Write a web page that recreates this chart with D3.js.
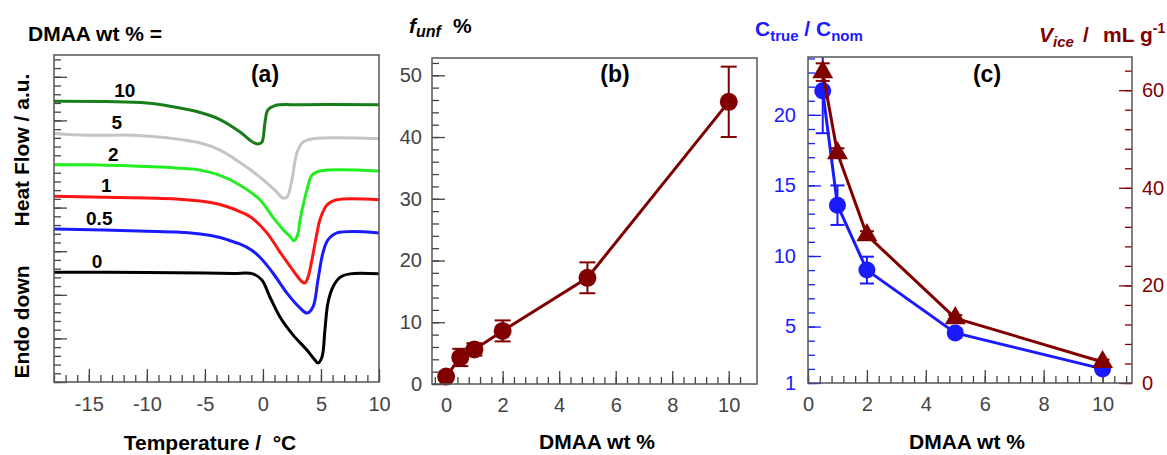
<!DOCTYPE html>
<html>
<head>
<meta charset="utf-8">
<script src="https://cdn.jsdelivr.net/npm/d3@7"></script>
<style>
  body { margin: 0; background: #fff; }
  text { font-family: "Liberation Sans", Arial, sans-serif; white-space: pre; }
</style>
</head>
<body>
<svg id="fig" width="1167" height="455"></svg>
<script>
// (a) DSC traces: temperature (°C) vs heat flow (a.u., offset per curve)
const curveNames = ["10", "5", "2", "1", "0.5", "0"];
const t10 = [-18, -10, -7.5, -5.4, -3.7, -2.0, -0.86, -0.43, -0.09, 0.17, 0.43, 1.03, 3.2, 10];
const hf10 = [32.2, 32.0, 31.5, 30.9, 30.1, 28.7, 27.5, 27.3, 27.5, 29.7, 31.2, 31.7, 31.8, 31.8];
const t5 = [-18, -15, -11.2, -8.3, -5.4, -3.7, -2.0, -0.26, 1.03, 1.72, 2.07, 2.5, 2.93, 3.45, 4.31, 10];
const hf5 = [28.5, 28.3, 28.3, 28.0, 27.4, 26.6, 25.2, 23.5, 22.0, 21.1, 21.2, 23.2, 26.3, 27.5, 27.9, 27.9];
const t2 = [-18, -15, -10, -7.5, -5.4, -3.7, -2.0, -0.26, 0.86, 1.72, 2.33, 2.67, 3.0, 3.2, 3.79, 4.22, 4.91, 10];
const hf2 = [24.9, 24.9, 24.7, 24.55, 24.3, 23.7, 22.6, 20.9, 18.9, 17.5, 16.7, 16.2, 16.9, 18.6, 22.0, 23.7, 24.2, 24.2];
const t1 = [-18, -10, -7.5, -5.4, -4.5, -3.7, -3.0, -2.0, -1.0, 0.34, 1.47, 2.59, 3.36, 3.62, 3.88, 4.22, 4.66, 4.91, 5.52, 6.38, 10];
const hf1 = [21.3, 21.1, 21.0, 20.76, 20.58, 20.35, 20.07, 19.55, 18.86, 17.1, 14.9, 12.8, 11.5, 11.35, 12.0, 14.0, 17.1, 18.6, 20.3, 20.9, 20.9];
const t05 = [-18, -10, -7.5, -5.4, -4.5, -3.7, -3.0, -2.0, -1.0, -0.26, 0.86, 2.07, 3.19, 3.79, 4.31, 4.74, 5.17, 5.6, 6.38, 10];
const hf05 = [17.55, 17.3, 17.2, 16.97, 16.8, 16.57, 16.28, 15.83, 15.14, 14.3, 12.5, 10.2, 8.5, 7.9, 8.6, 11.7, 14.8, 16.3, 17.1, 17.1];
const t0 = [-18, -10, -5, -2.5, -0.86, -0.09, 0.6, 1.47, 2.59, 3.79, 4.48, 4.74, 5.09, 5.34, 5.6, 6.03, 6.64, 7.5, 10];
const hf0 = [12.6, 12.55, 12.5, 12.45, 12.4, 11.7, 9.75, 7.45, 5.4, 3.67, 2.52, 2.18, 2.87, 5.96, 9.06, 10.9, 12.0, 12.4, 12.4];

// (b) unfrozen water fraction
const dmaaB = [0, 0.5, 1, 2, 5, 10];
const fUnf = [1.2, 4.3, 5.6, 8.6, 17.2, 45.7];
const fUnfErr = [0.3, 1.4, 1.0, 1.7, 2.5, 5.7];

// (c) concentration ratio and ice volume
const dmaaC = [0.5, 1, 2, 5, 10];
const cRatio = [21.7, 13.6, 9.0, 4.55, 2.0];
const cRatioErr = [3.0, 1.4, 0.95, 0.3, 0.15];
const vIce = [63.7, 47.1, 30.3, 13.3, 4.3];
const vIceErr = [1.8, 1.0, 0.8, 0.6, 0.5];

const svg = d3.select("#fig");
const FONT = "Liberation Sans, Arial, sans-serif";
const DARKRED = "#800000", BLUE = "#1a1aff", FRAME = "#555";

function ticks(scale, orient, pos, values, size, color, fmt, pad) {
  const maker = orient === "bottom" ? d3.axisBottom : orient === "left" ? d3.axisLeft : d3.axisRight;
  const ax = maker(scale).tickValues(values).tickSize(-size).tickPadding(pad || 0)
    .tickFormat(fmt || (() => ""));
  const tr = orient === "bottom" ? `translate(0,${pos})` : `translate(${pos},0)`;
  const g = svg.append("g").attr("transform", tr).call(ax)
    .attr("font-family", FONT).attr("font-size", 20);
  g.select(".domain").remove();
  g.selectAll("line").attr("stroke", color).attr("stroke-width", 1.3);
  g.selectAll("text").attr("fill", color);
  return g;
}

function frame(x, y) {
  svg.append("rect")
    .attr("x", x.range()[0]).attr("y", y.range()[1])
    .attr("width", x.range()[1] - x.range()[0]).attr("height", y.range()[0] - y.range()[1])
    .attr("fill", "none").attr("stroke", FRAME).attr("stroke-width", 1.5);
}

function boldText(x, y, str, size, anchor, color) {
  return svg.append("text").attr("x", x).attr("y", y).text(str)
    .attr("font-weight", "bold").attr("font-size", size)
    .attr("text-anchor", anchor || "start").attr("fill", color || "#000");
}

const num = d => String(d);

// ---------- panel (a) ----------
const xa = d3.scaleLinear().domain([-18, 10]).range([54, 379]);
const ya = d3.scaleLinear().domain([0, 37.5]).range([382, 55]);

ticks(xa, "bottom", 382, d3.range(-18, 11), 7, "#444");
ticks(xa, "bottom", 382, [-15, -10, -5, 0, 5, 10], 13, "#444", num, 15);
ticks(ya, "left", 54, d3.range(0, 38), 7, "#444");
ticks(ya, "left", 54, d3.range(0, 36, 5), 13, "#444");

const dscT = [t10, t5, t2, t1, t05, t0];
const dscV = [hf10, hf5, hf2, hf1, hf05, hf0];
const dscColors = ["#187c18", "#c4c4c4", "#22ee22", "#ff1414", "#1a1aff", "#000000"];
const labelT = [-11.9, -12.6, -12.9, -13.5, -14.1, -14.3];
const lineA = d3.line().curve(d3.curveCatmullRom.alpha(0.5));

dscT.forEach((ts, i) => {
  const pts = ts.map((t, j) => [xa(t), ya(dscV[i][j])]);
  svg.append("path").attr("d", lineA(pts))
    .attr("fill", "none").attr("stroke", dscColors[i]).attr("stroke-width", 3)
    .attr("stroke-linejoin", "round");
  boldText(xa(labelT[i]), ya(dscV[i][0]) - 4, curveNames[i], 19, "middle");
});
frame(xa, ya);

boldText(28, 41, "DMAA wt % =", 21);
boldText(265, 82, "(a)", 23, "middle");
boldText(210, 450, "Temperature /  °C", 21, "middle");
boldText(0, 0, "Heat Flow / a.u.", 21, "middle").attr("transform", "translate(29,150) rotate(-90)");
boldText(0, 0, "Endo down", 21, "middle").attr("transform", "translate(29,322) rotate(-90)");

// ---------- panel (b) ----------
const xb = d3.scaleLinear().domain([-0.5, 11]).range([432, 757]);
const yb = d3.scaleLinear().domain([0, 52.8]).range([384, 58]);

ticks(xb, "bottom", 384, d3.range(0, 28).map(i => +(i * 0.4 - 0.4).toFixed(1)), 7, "#444");
ticks(xb, "bottom", 384, [0, 2, 4, 6, 8, 10], 13, "#444", num, 14);
ticks(yb, "left", 432, d3.range(0, 53, 2), 7, "#444");
ticks(yb, "left", 432, [0, 10, 20, 30, 40, 50], 13, "#444", num, 10);

function errBars(x, y, xs, ys, es, color, cap, clipId) {
  const g = svg.append("g").attr("stroke", color).attr("stroke-width", 2);
  if (clipId) g.attr("clip-path", `url(#${clipId})`);
  xs.forEach((xv, i) => {
    const top = y(ys[i] + es[i]), bot = y(ys[i] - es[i]);
    g.append("line").attr("x1", x(xv)).attr("x2", x(xv)).attr("y1", top).attr("y2", bot);
    [top, bot].forEach(v => g.append("line")
      .attr("x1", x(xv) - cap).attr("x2", x(xv) + cap).attr("y1", v).attr("y2", v));
  });
}

errBars(xb, yb, dmaaB, fUnf, fUnfErr, DARKRED, 8);
svg.append("path")
  .attr("d", d3.line()(dmaaB.map((d, i) => [xb(d), yb(fUnf[i])])))
  .attr("fill", "none").attr("stroke", DARKRED).attr("stroke-width", 3);
svg.append("g").selectAll("circle").data(dmaaB).join("circle")
  .attr("cx", d => xb(d)).attr("cy", (d, i) => yb(fUnf[i])).attr("r", 9)
  .attr("fill", DARKRED);
frame(xb, yb);

boldText(615, 82, "(b)", 23, "middle");
boldText(597, 449, "DMAA wt %", 21, "middle");
const fl = svg.append("text").attr("x", 409).attr("y", 33)
  .attr("font-weight", "bold").attr("font-size", 21).attr("font-style", "italic");
fl.append("tspan").text("f");
fl.append("tspan").text("unf").attr("font-size", 16).attr("dy", 4);
fl.append("tspan").text("%").attr("font-style", "normal").attr("x", 453).attr("dy", -4);

// ---------- panel (c) ----------
const xc = d3.scaleLinear().domain([0, 11]).range([808, 1132]);
const yc = d3.scaleLinear().domain([1, 24.1]).range([383, 57]);
const yv = d3.scaleLinear().domain([0, 66.8]).range([383, 57]);

svg.append("clipPath").attr("id", "clipC").append("rect")
  .attr("x", 808).attr("y", 57).attr("width", 324).attr("height", 326);

ticks(xc, "bottom", 383, d3.range(0, 28).map(i => +(i * 0.4).toFixed(1)), 7, "#444");
ticks(xc, "bottom", 383, [0, 2, 4, 6, 8, 10], 13, "#444", num, 14);
ticks(yc, "left", 808, d3.range(1, 25), 7, BLUE);
ticks(yc, "left", 808, [1, 5, 10, 15, 20], 13, BLUE, num, 12);
ticks(yv, "right", 1132, d3.range(0, 67, 4), 7, DARKRED);
ticks(yv, "right", 1132, [0, 20, 40, 60], 13, DARKRED, num, 10);

errBars(xc, yc, dmaaC, cRatio, cRatioErr, BLUE, 7, "clipC");
svg.append("path")
  .attr("d", d3.line()(dmaaC.map((d, i) => [xc(d), yc(cRatio[i])])))
  .attr("fill", "none").attr("stroke", BLUE).attr("stroke-width", 3);
svg.append("g").selectAll("circle").data(dmaaC).join("circle")
  .attr("cx", d => xc(d)).attr("cy", (d, i) => yc(cRatio[i])).attr("r", 8.5)
  .attr("fill", BLUE);

errBars(xc, yv, dmaaC, vIce, vIceErr, DARKRED, 7, "clipC");
svg.append("path")
  .attr("d", d3.line()(dmaaC.map((d, i) => [xc(d), yv(vIce[i])])))
  .attr("fill", "none").attr("stroke", DARKRED).attr("stroke-width", 3);
const tri = d3.symbol().type(d3.symbolTriangle).size(190);
svg.append("g").selectAll("path").data(dmaaC).join("path")
  .attr("d", tri)
  .attr("transform", (d, i) => `translate(${xc(d)},${yv(vIce[i])})`)
  .attr("fill", DARKRED);
frame(xc, yc);

boldText(987, 82, "(c)", 23, "middle");
boldText(967, 449, "DMAA wt %", 21, "middle");

const cl = svg.append("text").attr("x", 755).attr("y", 36)
  .attr("font-weight", "bold").attr("font-size", 21).attr("fill", BLUE);
cl.append("tspan").text("C");
cl.append("tspan").text("true").attr("font-size", 15).attr("dy", 5);
cl.append("tspan").text(" / C").attr("dy", -5);
cl.append("tspan").text("nom").attr("font-size", 15).attr("dy", 5);

const vl = svg.append("text").attr("x", 1039).attr("y", 42)
  .attr("font-weight", "bold").attr("font-size", 21).attr("fill", DARKRED);
vl.append("tspan").text("V").attr("font-style", "italic");
vl.append("tspan").text("ice").attr("font-style", "italic").attr("font-size", 15).attr("dy", 5);
vl.append("tspan").text("/").attr("x", 1083).attr("dy", -5);
vl.append("tspan").text("mL g").attr("x", 1103);
vl.append("tspan").text("-1").attr("font-size", 14).attr("dy", -9);
</script>
</body>
</html>
